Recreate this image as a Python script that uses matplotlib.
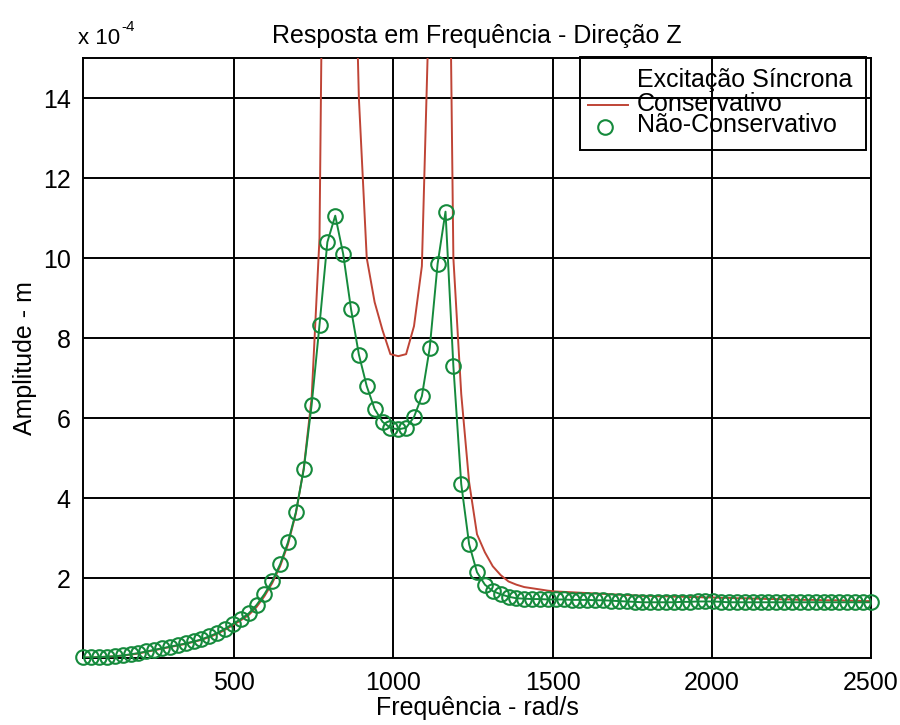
import matplotlib
matplotlib.use('Agg')
import matplotlib.pyplot as plt
import numpy as np
from matplotlib.lines import Line2D
from matplotlib.patches import Rectangle

plt.rcParams['font.family'] = ['Liberation Sans', 'DejaVu Sans']

# frequência de excitação (rad/s), 101 pontos de 25 a 2500
freq = np.linspace(25, 2500, 101)

# amplitudes em unidades de 1e-4 m
amp_conservativo = [
    0.02, 0.02, 0.03, 0.04, 0.05, 0.07, 0.09, 0.12, 0.16, 0.20,
    0.24, 0.28, 0.32, 0.36, 0.41, 0.46, 0.53, 0.61, 0.71, 0.83,
    0.95, 1.08, 1.28, 1.55, 1.88, 2.30, 2.85, 3.62, 4.75, 6.50,
    10.5, 30.0, 120.0, 45.0, 22.0, 14.0, 10.0, 8.90, 8.20, 7.60,
    7.55, 7.60, 8.30, 9.80, 17.0, 60.0, 27.0, 10.0, 6.60, 4.40,
    3.10, 2.65, 2.30, 2.08, 1.92, 1.84, 1.78, 1.75, 1.72, 1.69,
    1.67, 1.66, 1.65, 1.64, 1.63, 1.62, 1.61, 1.60, 1.59, 1.58,
    1.57, 1.56, 1.56, 1.55, 1.55, 1.54, 1.54, 1.53, 1.53, 1.52,
    1.52, 1.51, 1.51, 1.50, 1.50, 1.49, 1.49, 1.48, 1.48, 1.47,
    1.47, 1.46, 1.46, 1.46, 1.45, 1.45, 1.45, 1.44, 1.44, 1.43, 1.43,
]
amp_nao_conservativo = [
    0.02, 0.02, 0.03, 0.04, 0.05, 0.07, 0.10, 0.13, 0.17, 0.21,
    0.25, 0.29, 0.33, 0.37, 0.42, 0.47, 0.55, 0.63, 0.74, 0.86,
    0.98, 1.12, 1.33, 1.60, 1.93, 2.35, 2.90, 3.65, 4.72, 6.33,
    8.33, 10.40, 11.06, 10.11, 8.73, 7.59, 6.80, 6.23, 5.91, 5.76,
    5.72, 5.76, 6.03, 6.55, 7.76, 9.86, 11.16, 7.30, 4.35, 2.85,
    2.15, 1.84, 1.68, 1.60, 1.54, 1.50, 1.49, 1.48, 1.48, 1.47,
    1.47, 1.47, 1.46, 1.46, 1.46, 1.45, 1.45, 1.44, 1.43, 1.42,
    1.41, 1.40, 1.40, 1.40, 1.40, 1.40, 1.41, 1.41, 1.42, 1.42,
    1.42, 1.41, 1.40, 1.40, 1.40, 1.40, 1.40, 1.40, 1.40, 1.40,
    1.40, 1.40, 1.40, 1.40, 1.40, 1.40, 1.40, 1.40, 1.40, 1.40, 1.40,
]

xticks = [500, 1000, 1500, 2000, 2500]
yticks = [2, 4, 6, 8, 10, 12, 14]
labels = ['Excitação Síncrona', 'Conservativo', 'Não-Conservativo']

vermelho = '#bf4436'
verde = '#158a3c'
fs = 18

fig = plt.figure(figsize=(9, 7.25), dpi=100, facecolor='white')
ax = fig.add_axes([0.0925, 0.092, 0.875, 0.828])

ax.plot(freq, amp_conservativo, color=vermelho, lw=1.4, zorder=3)
ax.plot(freq, amp_nao_conservativo, color=verde, lw=1.4, zorder=4)
ax.plot(freq, amp_nao_conservativo, ls='none', marker='o', ms=10.5,
        mfc='none', mec=verde, mew=1.5, clip_on=False, zorder=5)

ax.set_xlim(25, 2500)
ax.set_ylim(0, 15)
ax.set_xticks(xticks)
ax.set_yticks(yticks)
ax.tick_params(labelsize=fs, length=0, pad=9)
ax.grid(True, color='black', lw=1.4, ls='-')
ax.set_axisbelow(True)
for s in ax.spines.values():
    s.set_linewidth(1.4)

ax.set_title('Resposta em Frequência - Direção Z', fontsize=fs, pad=11)
ax.set_xlabel('Frequência - rad/s', fontsize=fs, labelpad=1)
ax.set_ylabel('Amplitude - m', fontsize=fs, labelpad=4)

# fator de escala do eixo y
fig.text(0.087, 0.94, 'x 10', fontsize=16, ha='left', va='baseline')
fig.text(0.1345, 0.957, '-4', fontsize=11, ha='left', va='baseline')

# legenda desenhada à mão: moldura, linha, marcador e textos
tr = ax.transAxes
ax.add_patch(Rectangle((0.631, 0.847), 0.363, 0.154, transform=tr,
                       fill=False, ec='black', lw=1.4, zorder=6, clip_on=False))
ax.add_line(Line2D([0.641, 0.692], [0.921, 0.921], transform=tr,
                   color=vermelho, lw=1.4, zorder=7))
ax.add_line(Line2D([0.662], [0.885], transform=tr, ls='none', marker='o',
                   ms=10.5, mfc='none', mec=verde, mew=1.5, zorder=7))
for txt, yb in zip(labels, [0.952, 0.912, 0.876]):
    ax.text(0.703, yb, txt, transform=tr, fontsize=fs, ha='left',
            va='baseline', zorder=8)

fig.savefig('out.png', dpi=100, facecolor='white')
